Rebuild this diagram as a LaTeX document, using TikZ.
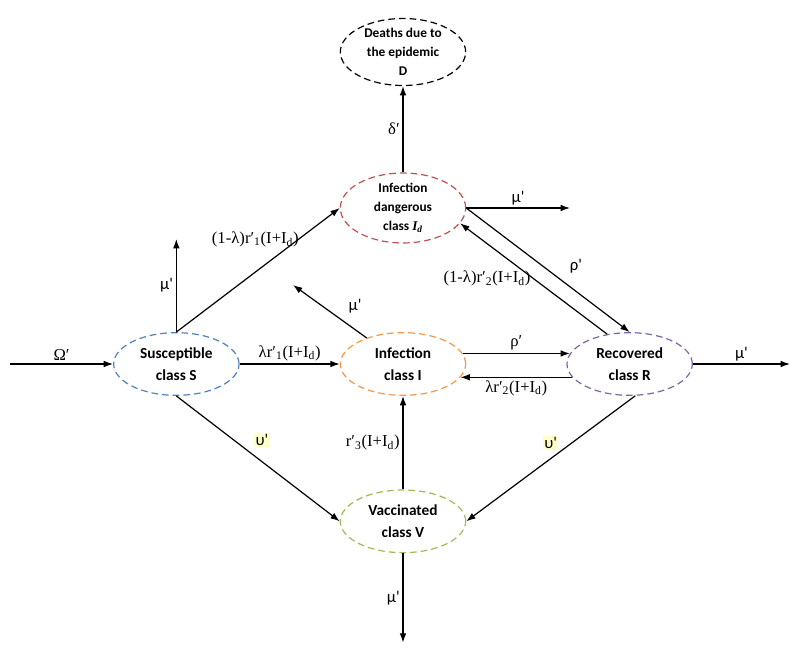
\documentclass[tikz,border=0pt]{standalone}
\usepackage{fontspec}
\setmainfont{Carlito}[Ligatures=TeXOff]
\newfontfamily\timesfont{Liberation Serif}
\usetikzlibrary{shapes.geometric,arrows.meta,positioning}
\definecolor{sblue}{HTML}{4F81BD}
\definecolor{iorange}{HTML}{F79646}
\definecolor{rpurple}{HTML}{8064A2}
\definecolor{vgreen}{HTML}{9BBB59}
\definecolor{idred}{HTML}{C0504D}
\definecolor{hl}{HTML}{FFFFC8}

\begin{document}
\begin{tikzpicture}[>={Latex[length=7pt,width=5pt]},line width=0.9pt,
                    node distance=117pt and 170pt,on grid]
  \tikzstyle{class}=[ellipse,draw,dash pattern=on 5pt off 3pt,minimum width=94pt,
                     minimum height=47pt,inner sep=0pt,align=center,
                     font=\bfseries\fontsize{11.5}{16.5}\selectfont]
  \tikzstyle{rate}=[font=\fontsize{12.5}{14}\selectfont,inner sep=2pt]
  \tikzstyle{ratef}=[font=\timesfont\fontsize{12.5}{14}\selectfont,inner sep=2pt]
  \tikzstyle{vacc}=[rate,fill=hl,inner sep=1pt]

  \useasboundingbox (-302.25pt,-220.5pt) rectangle (297.75pt,273pt);

	\node[class,draw=iorange]	(I)		 		  {Infection\\class I};
	\node[class,draw=sblue]	(S) [left=of I]  {Susceptible\\class S};
	\node[class,draw=rpurple]	(R) [right=of I]  {Recovered\\class R};
	\node[class,draw=idred,font=\bfseries\fontsize{10}{14.25}\selectfont]
		(Id) [above=of I] {Infection\\dangerous\\class {\timesfont\itshape I\textsubscript{d}}};
	\node[class,draw=black,minimum height=43pt,font=\bfseries\fontsize{10}{14.25}\selectfont]
		(D) [above=of Id] {Deaths due to\\the epidemic\\D};
	\node[class,draw=vgreen]	(V) [below=118pt of I]  {Vaccinated\\class V};

	\coordinate[left=124.75pt of S] (omega);
	\coordinate[above=93.75pt of S] (muS);
	\coordinate[above left=59.25pt and 82.5pt of I] (muI);
	\coordinate[right=125.25pt of Id] (muId);
	\coordinate[right=120.25pt of R] (muR);
	\coordinate[below=91pt of V] (muV);

	\path[->]
		(omega) edge		node[ratef,above] {Ω′} (S)
		(S) edge			node[ratef,above] {λr′\textsubscript{1}(I+I\textsubscript{d})} (I)
		(S.north) edge		node[rate,left] {μ'} (muS)
		    edge			node[ratef,xshift=-2pt,yshift=23pt] {(1-λ)r′\textsubscript{1}(I+I\textsubscript{d})} (Id.west)
		(S.south) edge		node[vacc,xshift=3pt,yshift=14pt] {υ'} (V.west)
		(I) edge			node[rate,xshift=19pt,yshift=4pt] {μ'} (muI)
		(I.10) edge			node[ratef,above] {ρ′} (R.170)
		(R.193) edge		node[ratef,below] {λr′\textsubscript{2}(I+I\textsubscript{d})} (I.-13)
		(Id) edge			node[ratef,left] {δ′} (D)
		(Id.east) edge		node[rate,above] {μ'} (muId)
		    edge			node[rate,xshift=21pt,yshift=3pt] {ρ'} (R.north)
		(R.127) edge		node[ratef,left] {(1-λ)r′\textsubscript{2}(I+I\textsubscript{d})} (Id.-15)
		(R) edge			node[rate,above] {μ'} (muR)
		(R.-80) edge		node[vacc,yshift=12pt] {υ'} (V.east)
		(V) edge			node[ratef,left] {r′\textsubscript{3}(I+I\textsubscript{d})} (I)
		    edge			node[rate,left] {μ'} (muV);

\end{tikzpicture}
\end{document}
